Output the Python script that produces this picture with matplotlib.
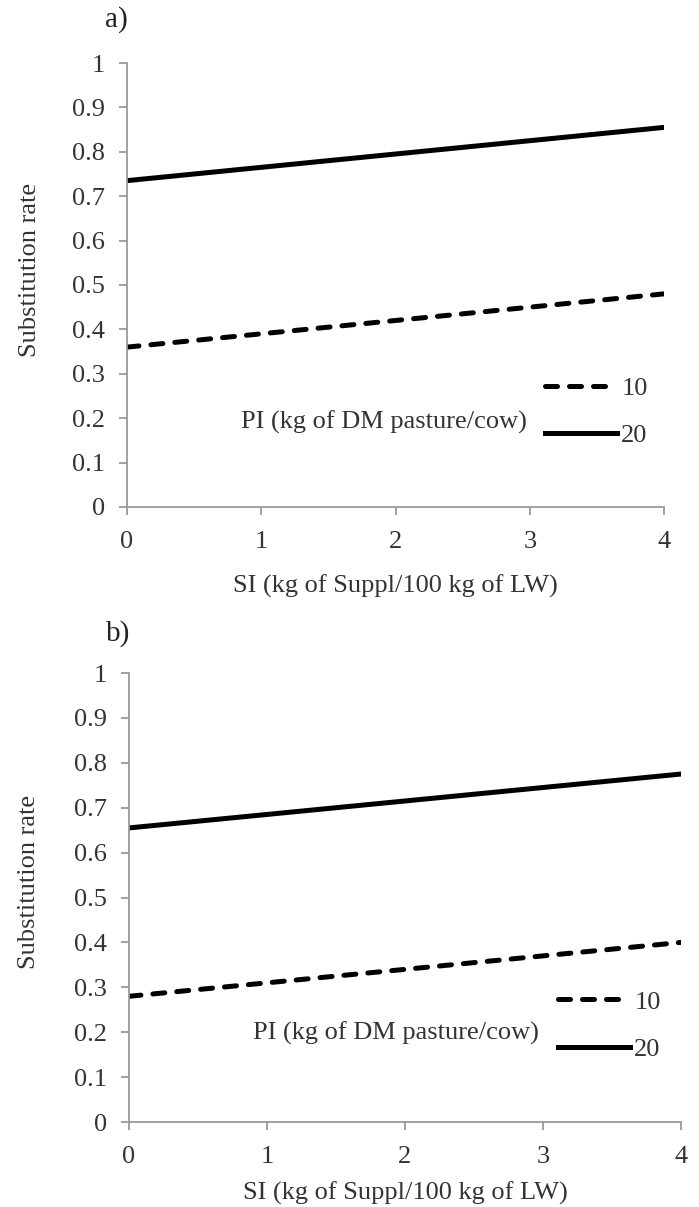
import numpy as np
import matplotlib.pyplot as plt
from matplotlib.lines import Line2D

plt.rcParams['font.family'] = ['Liberation Serif', 'DejaVu Serif']

# supplement intake (kg of Suppl/100 kg of LW)
si = [0, 4]
# substitution rate for pasture intake 10 and 20 kg DM/cow
sr_a_10 = [0.36, 0.48]
sr_a_20 = [0.735, 0.855]
sr_b_10 = [0.28, 0.40]
sr_b_20 = [0.655, 0.775]
pi_labels = ['10', '20']
y_ticks = [0, 0.1, 0.2, 0.3, 0.4, 0.5, 0.6, 0.7, 0.8, 0.9, 1]
y_ticklabels = ['0', '0.1', '0.2', '0.3', '0.4', '0.5', '0.6', '0.7', '0.8', '0.9', '1']
x_ticks = [0, 1, 2, 3, 4]

FS = 19
TXT = '#333333'
DASH = (0, (2.4, 2.4))

fig = plt.figure(figsize=(6.99, 12.07), dpi=100)
ax_a = fig.add_axes([0.1817, 0.580, 0.7683, 0.3678])
ax_b = fig.add_axes([0.1845, 0.0704, 0.7895, 0.3720])

# axes, series 10, series 20, tag, tag pos, legend anchor, PI label pos, xlabel pad
panels = [
    (ax_a, sr_a_10, sr_a_20, 'a)', (-0.019, 1.097), (0.778, 0.214), (0.479, 0.191), 16),
    (ax_b, sr_b_10, sr_b_20, 'b)', (-0.020, 1.089), (0.777, 0.215), (0.484, 0.198), 10),
]

for ax, s10, s20, tag, tag_pos, leg_anchor, pi_pos, xpad in panels:
    ax.plot(si, s10, color='black', lw=3.6, linestyle=DASH, dash_capstyle='round')
    ax.plot(si, s20, color='black', lw=3.6)
    ax.set_xlim(0, 4)
    ax.set_ylim(0, 1)
    ax.set_xticks(x_ticks)
    ax.set_yticks(y_ticks)
    ax.set_yticklabels(y_ticklabels)
    for side in ['top', 'right']:
        ax.spines[side].set_visible(False)
    for side in ['left', 'bottom']:
        ax.spines[side].set_color('#9a9a9a')
        ax.spines[side].set_linewidth(1.3)
    ax.tick_params(direction='out', length=6, width=1.3, color='#9a9a9a',
                   labelsize=FS, labelcolor=TXT)
    ax.tick_params(axis='y', pad=10)
    ax.tick_params(axis='x', pad=11)
    ax.set_ylabel('Substitution rate', fontsize=FS, color=TXT)
    ax.yaxis.set_label_coords(-0.161, 0.534)
    ax.set_xlabel('SI (kg of Suppl/100 kg of LW)', fontsize=FS, color=TXT, labelpad=xpad)
    ax.text(tag_pos[0], tag_pos[1], tag, transform=ax.transAxes, fontsize=21,
            ha='center', va='center', color='#222222')

    handles = [Line2D([0], [0], color='black', lw=3.6, linestyle=DASH, dash_capstyle='round'),
               Line2D([0], [0], color='black', lw=3.6)]
    leg = ax.legend(handles, pi_labels, loc='center left', bbox_to_anchor=leg_anchor,
                    frameon=False, fontsize=FS, handlelength=2.75, handletextpad=0.15,
                    labelspacing=0.9, borderpad=0, borderaxespad=0)
    for t in leg.get_texts():
        t.set_color(TXT)
    ax.text(pi_pos[0], pi_pos[1], 'PI (kg of DM pasture/cow)', transform=ax.transAxes,
            fontsize=FS, color=TXT, ha='center', va='center')

fig.savefig('out.png', dpi=100)
